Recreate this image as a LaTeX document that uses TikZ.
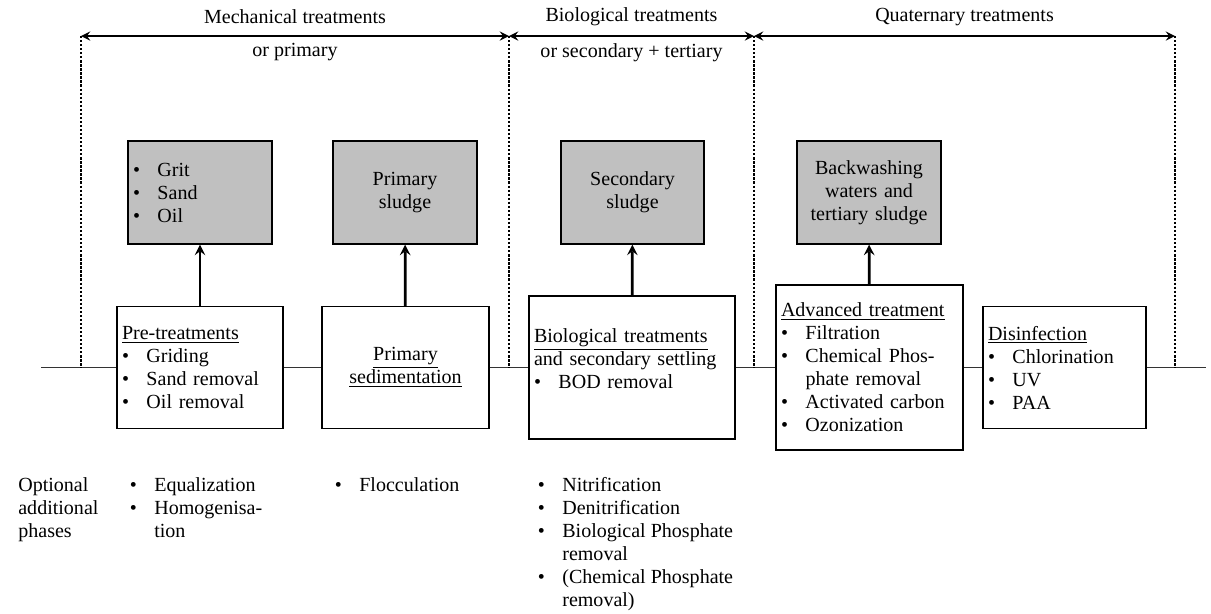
\documentclass[tikz,border=0pt]{standalone}
\usepackage{fontspec}
\setmainfont{Liberation Serif}
\usetikzlibrary{arrows}
\definecolor{sludgegray}{RGB}{192,192,192}
\newcommand{\itm}[1]{\makebox[0.49cm][l]{\textbullet}#1}
\newcommand{\cnt}[1]{\hspace*{0.49cm}#1}

\begin{document}
\begin{tikzpicture}[x=0.02cm, y=-0.02cm, >=stealth,
        font=\fontsize{11.4}{13.1}\selectfont,
        sludge/.style={draw, line width=0.7pt, fill=sludgegray, minimum height=2.06cm, inner xsep=0.1cm},
        stage/.style={draw, line width=0.7pt, fill=white, inner xsep=0.1cm},
        extra/.style={anchor=north west, align=left, inner sep=0pt},
        lift/.style={->, line width=1.6pt},
        span/.style={<->, line width=1.3pt},
        guide/.style={densely dotted, line width=1.3pt},
        flow/.style={line width=0.6pt, black!80}]
        \useasboundingbox (0,0) rectangle (1211,613);

        % Fanghi e residui
        \node[sludge, text width=2.68cm, align=left] (grit) at (200,192.5) {\itm{Grit}\\\itm{Sand}\\\itm{Oil}};
        \node[sludge, text width=2.68cm, align=center] (psludge) at (405,192.5) {Primary\\sludge};
        \node[sludge, text width=2.66cm, align=center] (ssludge) at (632.5,192.5) {Secondary\\sludge};
        \node[sludge, text width=2.68cm, align=center] (wash) at (869,192.5) {Backwashing\\waters and\\tertiary sludge};

        % Linea di trattamento
        \node[stage, text width=3.12cm, minimum height=2.44cm, align=left] (pre) at (200,367.5)
            {\underline{Pre-treatments}\\\itm{Griding}\\\itm{Sand removal}\\\itm{Oil removal}};
        \node[stage, text width=3.14cm, minimum height=2.44cm, align=center] (psed) at (405.5,367.5)
            {\underline{Primary}\\\underline{sedimentation}};
        \node[stage, text width=3.92cm, minimum height=2.86cm, align=left] (bio) at (632,367.5)
            {\underline{Biological treatments}\\and secondary settling\\\itm{BOD removal}\\[-0.1cm]\mbox{}};
        \node[stage, text width=3.54cm, minimum height=3.3cm, align=left] (adv) at (869.5,367.5)
            {\underline{Advanced treatment}\\\itm{Filtration}\\\itm{Chemical Phos-}\\\cnt{phate removal}\\\itm{Activated carbon}\\\itm{Ozonization}};
        \node[stage, text width=3.06cm, minimum height=2.44cm, align=left] (dis) at (1064.5,367.5)
            {\underline{Disinfection}\\\itm{Chlorination}\\\itm{UV}\\\itm{PAA}};

        \coordinate (in) at (41,367.5);
        \coordinate (out) at (1206,367.5);
        \draw[flow] (in) -- (pre) -- (psed) -- (bio) -- (adv) -- (dis) -- (out);

        % Frecce verso i fanghi
        \draw[lift] (pre) -- (grit);
        \draw[lift] (psed) -- (psludge);
        \draw[lift] (bio) -- (ssludge);
        \draw[lift] (adv) -- (wash);

        % Limiti delle fasi
        \foreach \g/\x in {1/81, 2/509, 3/754, 4/1175} {
            \coordinate (top\g) at (\x,36);
            \coordinate (low\g) at (\x,367.5);
            \draw[guide] (top\g) -- (low\g);
        }
        \draw[span] (top1) -- (top2) node[midway, yshift=0.38cm] {Mechanical treatments}
            node[midway, yshift=-0.33cm] {or primary};
        \draw[span] (top2) -- (top3) node[midway, yshift=0.38cm] {Biological treatments}
            node[midway, yshift=-0.33cm] {or secondary + tertiary};
        \draw[span] (top3) -- (top4) node[midway, yshift=0.38cm] {Quaternary treatments};

        % Fasi opzionali
        \node[extra] (opt) at (18,477) {Optional\\additional\\phases};
        \node[extra] (preopt) at (129.5,477) {\itm{Equalization}\\\itm{Homogenisa-}\\\cnt{tion}};
        \node[extra] (sedopt) at (334.5,477) {\itm{Flocculation}};
        \node[extra] (bioopt) at (537.5,477) {\itm{Nitrification}\\\itm{Denitrification}\\\itm{Biological Phosphate}\\\cnt{removal}\\\itm{(Chemical Phosphate}\\\cnt{removal)}};
    \end{tikzpicture}
\end{document}
